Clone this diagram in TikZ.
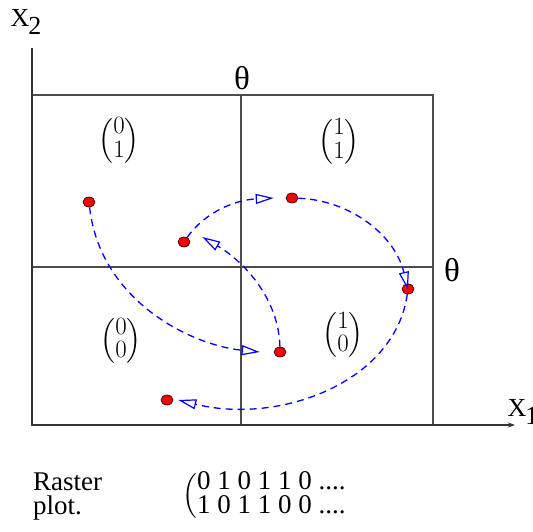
\documentclass[tikz,border=0pt]{standalone}
\usepackage{amsmath}
\usepackage[no-math]{fontspec}
\setmainfont{Liberation Serif}
\usetikzlibrary{arrows.meta,shapes.geometric}
\tikzset{
  grid/.style={line width=1.1pt,black!70},
  axis/.style={line width=1.3pt,black!80},
  traj/.style={line width=1.3pt,blue,dash pattern=on 7pt off 5pt,
    -{Triangle[open,length=18pt,width=10pt,line width=1.2pt]}},
  spot/.style={ellipse,fill=red,draw=black,line width=0.6pt,
    minimum width=12pt,minimum height=10pt,inner sep=0pt},
  lbl/.style={font=\fontsize{26}{26}\selectfont,inner sep=0pt},
  thr/.style={font=\fontsize{33}{33}\selectfont,inner sep=0pt},
  vec/.style={font=\fontsize{25}{25}\selectfont,inner sep=0pt},
}
\newcommand{\cellvec}[3]{$\renewcommand{\arraystretch}{#3}\left(\begin{matrix}#1\\#2\end{matrix}\right)$}

\begin{document}
\begin{tikzpicture}[x=1pt,y=-1pt]
  \useasboundingbox (0,0) rectangle (533,531);
  % ---------------- axes and threshold grid ----------------
  \coordinate (o) at (32,425);
  \coordinate (ytop) at (32,48);
  \coordinate (xend) at (515,425);
  \draw[grid] (32,95) rectangle (433,425);
  \draw[grid] (241,95) -- (241,425);
  \draw[grid] (32,267) -- (433,267);
  \draw[axis] (o) -- (ytop);
  \draw[axis,-{Stealth[length=7pt,width=5pt]}] (o) -- (xend);
  \node[lbl] (x2) at (26,22) {X\kern-1pt\lower8pt\hbox{2}};
  \node[lbl] (x1) at (523,412) {X\kern-1pt\lower8pt\hbox{1}};
  \node[thr] (thtop) at (242,78) {θ};
  \node[thr] (thright) at (452,270) {θ};
  % ---------------- cell labels ----------------
  \node[vec] (c01) at (119,141) {\cellvec{0}{1}{0.95}};
  \node[vec] (c11) at (339,142) {\cellvec{1}{1}{0.95}};
  \node[vec] (c00) at (121,341) {\cellvec{0}{0}{0.85}};
  \node[vec] (c10) at (343,335) {\cellvec{1}{0}{0.85}};
  % ---------------- states ----------------
  \node[spot] (p1) at (89,202) {};
  \node[spot] (p2) at (292,198) {};
  \node[spot] (p3) at (184,242) {};
  \node[spot] (p4) at (408,289) {};
  \node[spot] (p5) at (280,352) {};
  \node[spot] (p6) at (167,400) {};
  % ---------------- trajectory ----------------
  \draw[traj] (p1) .. controls (100,300) and (190,345) .. ([xshift=-14pt]p5.west);
  \draw[traj] (p5) .. controls (279,300) and (245,262) .. ([xshift=12pt,yshift=5pt]p3.east);
  \draw[traj] (p3) .. controls (205,212) and (235,200) .. ([xshift=-12pt]p2.west);
  \draw[traj] (p2) .. controls (350,200) and (395,235) .. ([yshift=-6pt]p4.north);
  \draw[traj] (p4) .. controls (395,382) and (280,425) .. ([xshift=5pt]p6.east);
  % ---------------- raster ----------------
  \node[lbl,anchor=west,align=left,font=\fontsize{27}{24}\selectfont] (rast) at (33,497) {Raster\\plot.};
  \node[lbl,anchor=west,font=\fontsize{27}{24}\selectfont] (bits) at (182,496)
    {$\renewcommand{\arraystretch}{0.85}\left(\begin{array}{@{}l@{}}\text{0 1 0 1 1 0 ....}\\\text{1 0 1 1 0 0 ....}\end{array}\right.$};
\end{tikzpicture}
\end{document}
